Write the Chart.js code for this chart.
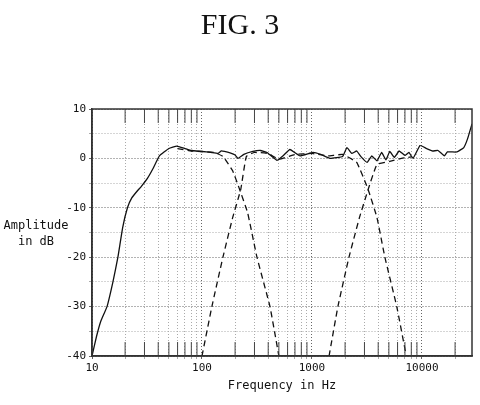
<!DOCTYPE html>
<html><head><meta charset="utf-8">
<script src="https://cdn.jsdelivr.net/npm/chart.js@4/dist/chart.umd.min.js"></script>
<style>html,body{margin:0;background:#fff}#w{width:480px;height:405px}</style>
</head><body><div id="w"><canvas id="c"></canvas></div>
<script>
const figTitle = "FIG. 3";
const xTitle = "Frequency in Hz";
const yTitle = ["Amplitude", "in dB"];
const xTickLabels = [10, 100, 1000, 10000];
const yTickLabels = [10, 0, -10, -20, -30, -40];
const totalFreq = [10,11,12,13.7,15.5,17.2,19,21,23,26,28,32,36,41,50,59,70,80,100,120,140,150,160,180,200,212,240,290,340,390,480,550,630,780,1020,1200,1460,1900,2080,2300,2550,2800,3170,3500,3900,4300,4700,5100,5600,6200,7000,7600,8300,9600,11000,12500,14000,16000,17000,20800,24000,26000,28500];
const totalDb   = [-40,-36,-33,-30,-25,-20,-14,-10,-8,-6.5,-5.7,-4,-2,0.5,2,2.5,2,1.6,1.4,1.2,1.0,1.5,1.4,1.1,0.7,0,0.8,1.4,1.6,1.2,-0.4,0.6,1.8,0.5,1.2,0.8,0,0.4,2.2,1.0,1.5,0.3,-0.8,0.5,-0.5,1.2,-0.3,1.4,0.2,1.5,0.6,1.2,0,2.6,2.0,1.5,1.6,0.5,1.3,1.3,2.2,4,7];
const wooferFreq = [60,80,100,130,155,190,220,260,316,415,500];
const wooferDb   = [2,1.5,1.4,1.2,0.4,-2.5,-6.3,-11,-20,-30,-40];
const midLowFreq = [100,123,155,190,225,253,300,400,500,700,1000,1400,1900,2550,3240,3900,4600,5900,7200];
const midLowDb   = [-40,-30,-20,-12,-6.3,0.4,1.2,1,-0.2,0.8,1.0,0.5,0.8,-0.8,-6.3,-12,-20,-30,-40];
const tweeterFreq = [1430,1720,2170,2700,3240,3900,5100,6500,8000];
const tweeterDb   = [-40,-30,-20,-12,-6.3,-1.2,-0.6,0,0.3];
const pts=(f,d)=>f.map((x,i)=>({x,y:d[i]}));
const ds=(data,dash)=>({data,borderColor:'#111',borderWidth:1.3,pointRadius:0,tension:0.1,borderDash:dash,fill:false,showLine:true});
const deco={id:'deco',afterDraw(ch){const c=ch.ctx;c.save();c.fillStyle='#111';
 c.font='30px "Liberation Serif"';c.textAlign='center';c.textBaseline='middle';c.fillText(figTitle,240,26);
 c.font='12px "DejaVu Sans Mono"';c.fillText(xTitle,282,386);
 c.fillText(yTitle[0],36,226);c.fillText(yTitle[1],36,242);
 const a=ch.chartArea,xs=ch.scales.x;c.strokeStyle='#444';c.lineWidth=1;
 for(let d=10;d<=10000;d*=10)for(let k=2;k<=9;k++){const x=xs.getPixelForValue(d*k);if(x>a.right)continue;
  c.beginPath();c.moveTo(x,a.top);c.lineTo(x,a.top+14);c.moveTo(x,a.bottom);c.lineTo(x,a.bottom-14);c.stroke();}
 c.strokeStyle='#333';c.lineWidth=1.5;c.strokeRect(a.left,a.top,a.right-a.left,a.bottom-a.top);
 c.restore();}};
new Chart(document.getElementById('c'),{type:'scatter',
 data:{datasets:[ds(pts(totalFreq,totalDb),[]),ds(pts(wooferFreq,wooferDb),[6,4]),ds(pts(midLowFreq,midLowDb),[6,4]),ds(pts(tweeterFreq,tweeterDb),[6,4])]},
 options:{responsive:true,maintainAspectRatio:false,animation:false,
  layout:{padding:{top:109,right:8,left:0,bottom:0}},
  plugins:{legend:{display:false},tooltip:{enabled:false}},
  scales:{
   x:{type:'logarithmic',min:10,max:28500,
    afterBuildTicks(s){const t=[];for(let d=10;d<=10000;d*=10)for(let k=1;k<=9;k++)if(d*k<=28500)t.push({value:d*k});s.ticks=t;},
    afterFit(s){s.height=49;},
    ticks:{autoSkip:false,maxRotation:0,color:'#111',font:{family:'DejaVu Sans Mono',size:11},callback:v=>xTickLabels.includes(v)?String(v):''},
    grid:{color:c=>xTickLabels.includes(c.tick&&c.tick.value)?'#666':'#aaa',tickLength:3},
    border:{color:'#333',width:1.5,dash:[1,2]}},
   y:{min:-40,max:10,
    afterBuildTicks(s){const t=[];for(let v=10;v>=-40;v-=5)t.push({value:v});s.ticks=t;},
    afterFit(s){s.width=92;},
    ticks:{color:'#111',font:{family:'DejaVu Sans Mono',size:11},callback:v=>yTickLabels.includes(v)?String(v):''},
    grid:{color:c=>yTickLabels.includes(c.tick&&c.tick.value)?'#666':'#aaa',tickLength:3},
    border:{color:'#333',width:1.5,dash:[1,2]}}
  }},
 plugins:[deco]});
</script></body></html>
